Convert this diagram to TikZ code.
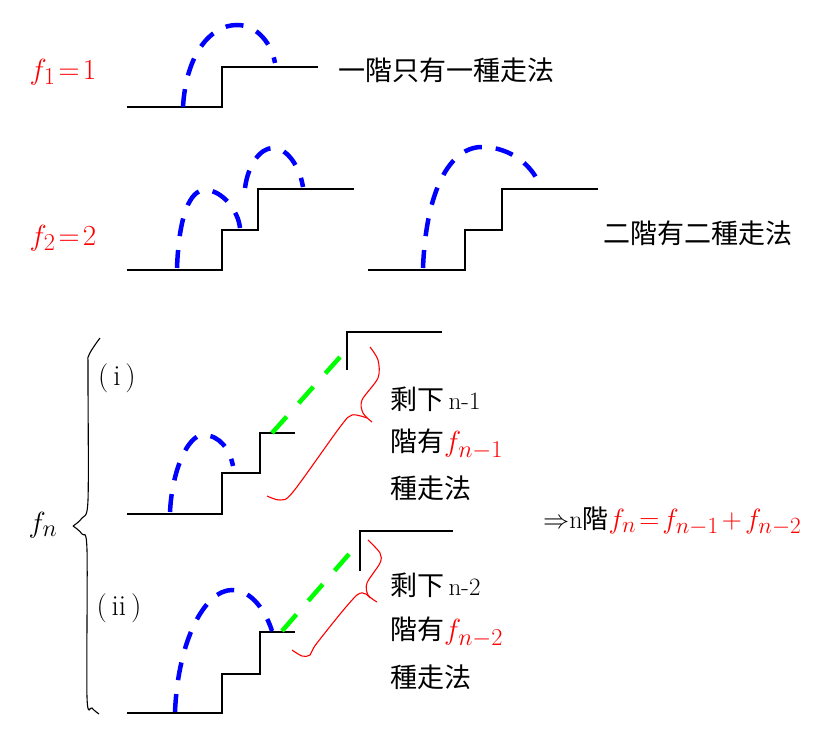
\documentclass[tikz,border=0pt]{standalone}
\usepackage{fontspec}
\newfontfamily\cjk{Noto Sans CJK TC}
\newcommand{\myscaledmath}[2]{{\fontsize{24.88}{28}\selectfont\scalebox{#1}{#2}}}
\begin{document}
\begin{tikzpicture}[x=1pt,y=-1pt,
  stair/.style={black, line width=1.8pt},
  hop/.style={blue, line width=4.5pt, dash pattern=on 18pt off 14pt},
  slide/.style={green, line width=4.5pt, dash pattern=on 22pt off 18pt},
  rbrace/.style={red, line width=1.1pt},
  kbrace/.style={black, line width=1.1pt},
  cjktxt/.style={inner sep=0pt, anchor=west, font=\cjk\fontsize{27}{30}\selectfont},
  mathlbl/.style={inner sep=0pt},
  caselbl/.style={inner sep=0pt, font=\fontsize{24.88}{30}\selectfont}]
\useasboundingbox (0,0) rectangle (829,743);

% ---- row 1 ----
\node[mathlbl, red] (f1) at (63,72) {\myscaledmath{1.17}{$f_1\mkern2mu{=}\mkern2mu1$}};
\draw[stair] (127,107) -- (222,107) -- (222,67) -- (318,67);
\draw[hop] (183,107) .. controls (186,55) and (210,25) .. (237,25)
           .. controls (258,25) and (272,45) .. (275,63);
\node[cjktxt] (t1) at (338,70) {一階只有一種走法};

% ---- row 2 ----
\node[mathlbl, red] (f2) at (63,238) {\myscaledmath{1.17}{$f_2\mkern2mu{=}\mkern2mu2$}};
\draw[stair] (127,270) -- (222,270) -- (222,230) -- (258,230) -- (258,189) -- (354,189);
\draw[hop] (177,268) .. controls (179,215) and (190,190) .. (205,190)
           .. controls (222,190) and (238,210) .. (240,228);
\draw[hop] (245,188) .. controls (248,165) and (260,148) .. (273,148)
           .. controls (288,148) and (300,168) .. (303,187);
\draw[stair] (368,270) -- (465,270) -- (465,230) -- (502,230) -- (502,189) -- (598,189);
\draw[hop] (423,268) .. controls (426,190) and (450,147) .. (482,147)
           .. controls (510,147) and (533,165) .. (541,188);
\node[cjktxt] (t2) at (603,233) {二階有二種走法};

% ---- left brace ----
\node[mathlbl] (fn) at (43,525) {\myscaledmath{1.17}{$f_n$}};
\draw[kbrace] plot[smooth, tension=0.5] coordinates {(100,338) (89,355) (88,372) (88,500) (82,518) (73,526)};
\draw[kbrace] plot[smooth, tension=0.5] coordinates {(73,526) (82,534) (87,550) (87,697) (92,708) (99,714)};

% ---- case (i) ----
\node[caselbl] (c1) at (117,378) {\scalebox{1.17}{(\,i\,)}};
\draw[stair] (127,514) -- (222,514) -- (222,473) -- (260,473) -- (260,433) -- (295,433);
\draw[hop] (170,512) .. controls (172,470) and (188,435) .. (203,435)
           .. controls (220,435) and (230,450) .. (233,466);
\draw[slide] (272,433) -- (340,357);
\draw[stair] (347,370) -- (347,332) -- (442,332);
\draw[rbrace] plot[smooth, tension=0.5] coordinates {(370,347) (378,360) (378,378) (362,400) (363,413) (372,422)};
\draw[rbrace] plot[smooth, tension=0.5] coordinates {(367,418) (352,415) (340,427) (293,492) (280,500) (267,496)};
\node[cjktxt] (a1) at (390,399) {剩下\,{\rmfamily\fontsize{25}{28}\selectfont n-1}};
\node[cjktxt] (a2) at (390,444) {階有\textcolor{red}{\myscaledmath{1.17}{$f_{n-1}$}}};
\node[cjktxt] (a3) at (390,488) {種走法};

% ---- case (ii) ----
\node[caselbl] (c2) at (119,608) {\scalebox{1.17}{(\,ii\,)}};
\draw[stair] (127,713) -- (222,713) -- (222,674) -- (260,674) -- (260,632) -- (295,632);
\draw[hop] (175,712) .. controls (178,640) and (205,590) .. (232,590)
           .. controls (252,590) and (266,612) .. (272,631);
\draw[slide] (282,631) -- (350,553);
\draw[stair] (360,571) -- (360,531) -- (453,531);
\draw[rbrace] plot[smooth, tension=0.5] coordinates {(368,540) (380,553) (380,563) (367,583) (368,595) (377,602)};
\draw[rbrace] plot[smooth, tension=0.5] coordinates {(370,598) (357,595) (317,643) (310,655) (302,656) (292,650)};
\node[cjktxt] (b1) at (390,585) {剩下\,{\rmfamily\fontsize{25}{28}\selectfont n-2}};
\node[cjktxt] (b2) at (390,632) {階有\textcolor{red}{\myscaledmath{1.17}{$f_{n-2}$}}};
\node[cjktxt] (b3) at (390,677) {種走法};

% ---- conclusion ----
\node[inner sep=0pt, anchor=west, font=\fontsize{26}{30}\selectfont] (eq) at (543,521)
  {\myscaledmath{1.05}{$\Rightarrow$}n{\cjk 階}\textcolor{red}{\myscaledmath{1.12}{\thickmuskip=2mu\medmuskip=2mu$f_n=f_{n-1}+f_{n-2}$}}};
\end{tikzpicture}
\end{document}
